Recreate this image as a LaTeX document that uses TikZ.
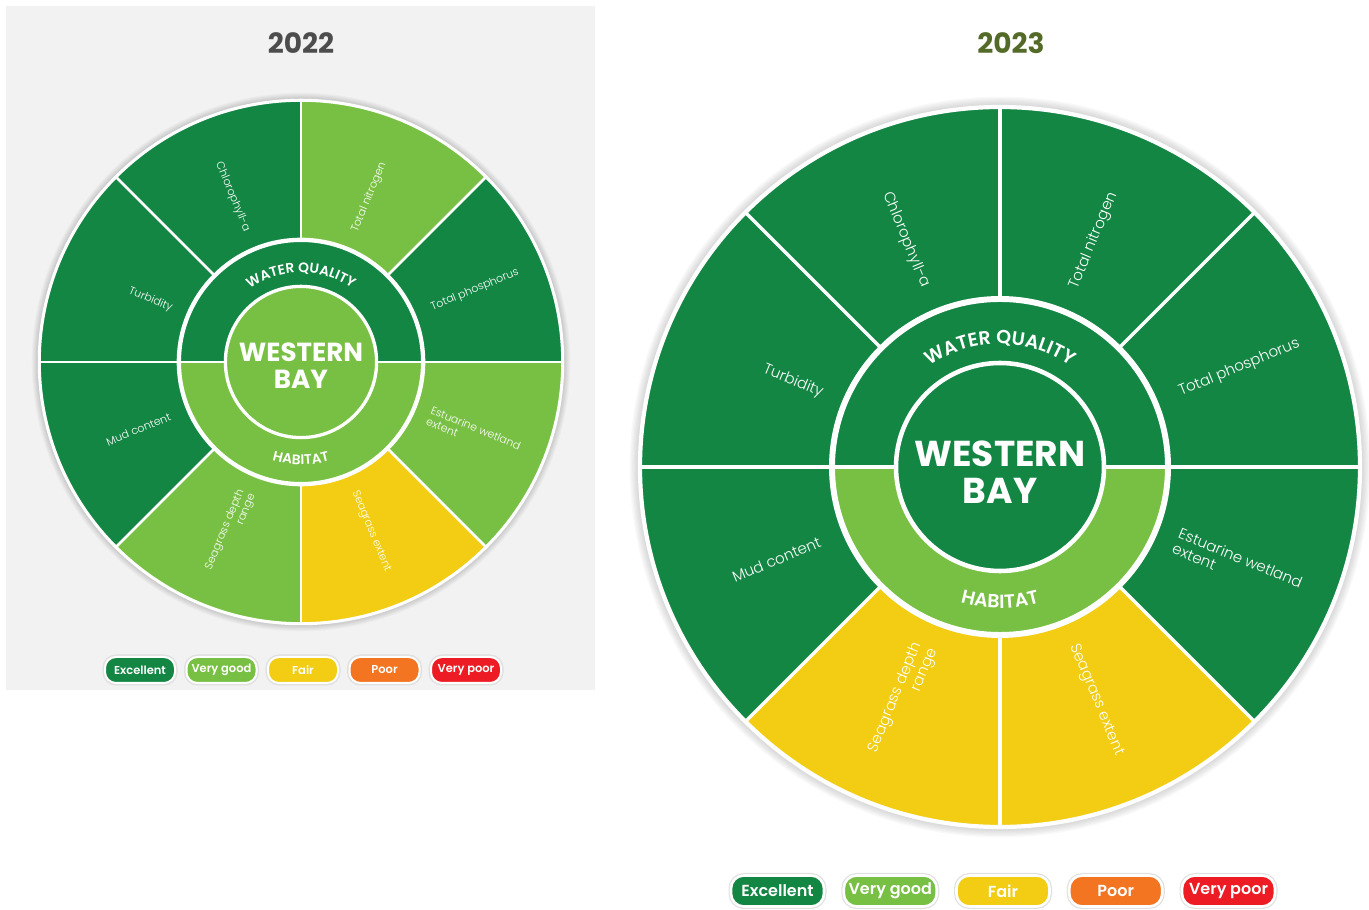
\documentclass[tikz,border=0pt]{standalone}
\usepackage{fontspec}
\setmainfont{Poppins}
\newfontfamily\lightfont{Poppins Light}
\newfontfamily\semifont{Poppins SemiBold}
\usetikzlibrary{decorations.text}

\definecolor{excellent}{RGB}{19,134,68}
\definecolor{verygood}{RGB}{120,192,67}
\definecolor{fair}{RGB}{242,205,20}
\definecolor{poor}{RGB}{243,116,33}
\definecolor{verypoor}{RGB}{237,28,36}
\definecolor{panelgrey}{RGB}{242,242,242}
\definecolor{titlegrey}{RGB}{77,77,77}
\definecolor{titleolive}{RGB}{84,106,40}

% #1 name, #2 centre, #3 scale, #4 centre colour, #5 sector colours from 0 deg
\newcommand{\baywheel}[5]{%
  \pgfmathsetlengthmacro\lblsz{15pt*#3}%
  \pgfmathsetlengthmacro\lblskip{16.5pt*#3}%
  \pgfmathsetlengthmacro\ringsz{19pt*#3}%
  \pgfmathsetlengthmacro\baysz{36pt*#3}%
  \pgfmathsetlengthmacro\bayskip{37pt*#3}%
  \pgfmathsetlengthmacro\lw{3.5pt*#3}%
  \begin{scope}[shift={#2}, scale=#3]
    % Shadow
    \foreach \g in {1,...,8}
      \fill[black, opacity=0.025] (0,0) circle[radius=360+1.3*\g];

    % Sectors
    \foreach \c [count=\i from 0] in {#5}
      \fill[\c] (0,0) -- (\i*45:360) arc[start angle=\i*45, delta angle=45, radius=360] -- cycle;
    \foreach \i in {0,...,7}
      \draw[white, line width=\lw] (\i*45:168) -- (\i*45:360);
    \draw[white, line width=1.2*\lw] (0,0) circle[radius=360];

    % Ring
    \fill[excellent] (0:168) arc[start angle=0, end angle=180, radius=168] -- cycle;
    \fill[verygood] (180:168) arc[start angle=180, end angle=360, radius=168] -- cycle;
    \draw[white, line width=\lw] (180:168) -- (0:168);
    \draw[white, line width=1.7*\lw] (0,0) circle[radius=168];
    \fill[#4] (0,0) circle[radius=104];
    \draw[white, line width=1.3*\lw] (0,0) circle[radius=104];

    \path[decorate, decoration={text along path, text align=center, text color=white,
      text={|\semifont\fontsize{\ringsz}{\ringsz}\selectfont|WATER QUALITY}}]
      (160:123) arc[start angle=160, end angle=20, radius=123];
    \path[decorate, decoration={text along path, text align=center, text color=white,
      text={|\semifont\fontsize{\ringsz}{\ringsz}\selectfont|HABITAT}}]
      (200:141) arc[start angle=200, end angle=340, radius=141];

    \node[font=\bfseries\fontsize{\baysz}{\bayskip}\selectfont, text=white, align=center] (#1-bay) at (0,-5) {WESTERN\\BAY};

    % Indicator labels
    \node[lbl, rotate=22.5] (#1-tp) at (22.5:259) {Total phosphorus};
    \node[lbl, rotate=67.5] (#1-tn) at (67.5:245) {Total nitrogen};
    \node[lbl, rotate=-67.5] (#1-chl) at (112.5:246) {Chlorophyll-a};
    \node[lbl, rotate=-22.5] (#1-turb) at (157.5:224) {Turbidity};
    \node[lbl, rotate=22.5] (#1-mud) at (202.5:242) {Mud content};
    \node[lbl, rotate=67.5, align=right] (#1-sdr) at (247.5:253) {Seagrass depth\\range};
    \node[lbl, rotate=-67.5] (#1-se) at (292.5:252) {Seagrass extent};
    \node[lbl, rotate=-22.5, align=left] (#1-ewe) at (337.5:257) {Estuarine wetland\\extent};
  \end{scope}}

\begin{document}
\begin{tikzpicture}[x=1pt, y=1pt]
  \tikzset{
    lbl/.style={text=white, inner sep=0pt, font=\lightfont\fontsize{\lblsz}{\lblskip}\selectfont},
    pill/.style={fill=#1, draw=white, line width=2.6pt, rounded corners=13pt, text=white,
      minimum width=93pt, minimum height=31pt, inner sep=0pt, font=\semifont\fontsize{16}{16}\selectfont,
      preaction={draw=black!12, line width=5pt}},
    smallpill/.style={pill=#1, line width=2pt, rounded corners=11pt, minimum width=70pt,
      minimum height=26pt, font=\semifont\fontsize{11.5}{11.5}\selectfont,
      preaction={draw=black!12, line width=4pt}},
    title/.style={font=\bfseries\fontsize{28}{28}\selectfont}
  }
  \useasboundingbox (0,0) rectangle (1369,910);

  % 2022 panel
  \fill[panelgrey] (6,220) rectangle (595,904);
  \node[title, text=titlegrey] (title22) at (301,867) {2022};
  \baywheel{w22}{(301,548)}{0.727}{verygood}{excellent,verygood,excellent,excellent,excellent,verygood,fair,verygood}
  \foreach \lab/\col [count=\k from 0] in {Excellent/excellent, Very good/verygood, Fair/fair, Poor/poor, Very poor/verypoor}
    \node[smallpill=\col] (key22-\k) at (140+\k*81.5,240) {\lab};

  % 2023
  \node[title, text=titleolive] (title23) at (1011,867) {2023};
  \baywheel{w23}{(1000,443)}{1}{excellent}{excellent,excellent,excellent,excellent,excellent,fair,fair,excellent}
  \foreach \lab/\col [count=\k from 0] in {Excellent/excellent, Very good/verygood, Fair/fair, Poor/poor, Very poor/verypoor}
    \node[pill=\col] (key23-\k) at (777.5+\k*112.75,19) {\lab};
\end{tikzpicture}
\end{document}
